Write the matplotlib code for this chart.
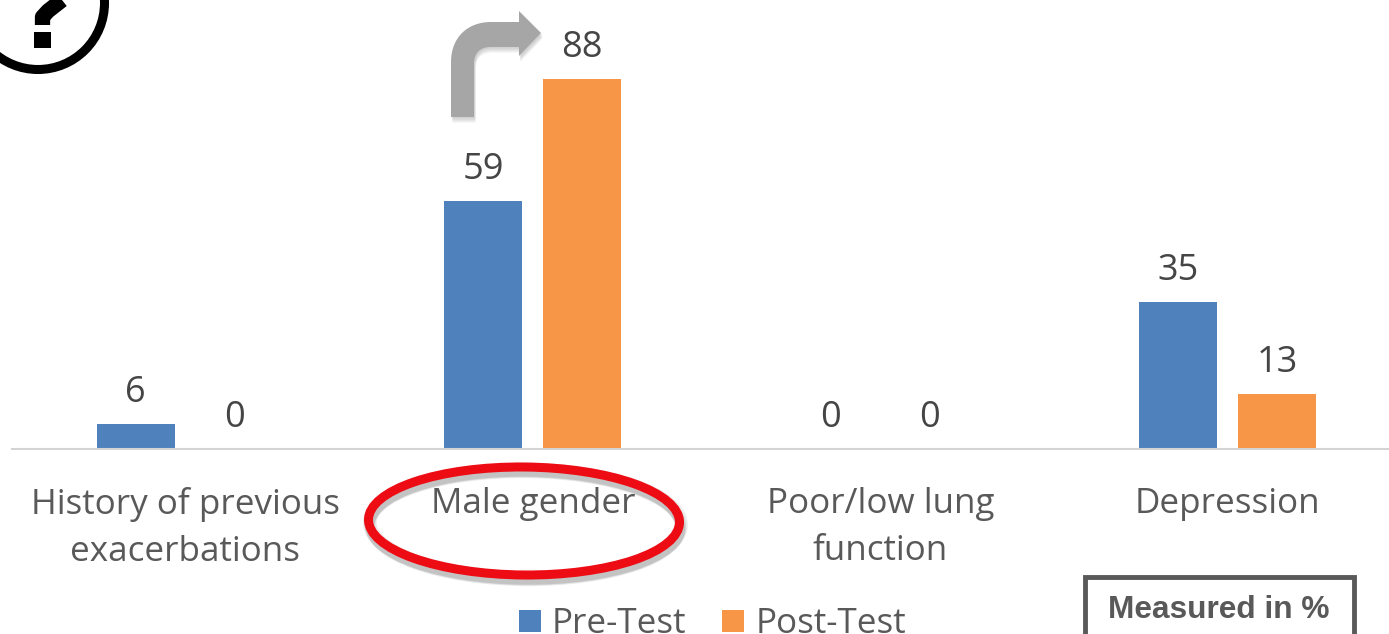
import matplotlib
matplotlib.use("Agg")
import matplotlib.pyplot as plt
import matplotlib.patheffects as pe
from matplotlib.patches import Ellipse, Circle, PathPatch, Rectangle
from matplotlib.path import Path
import numpy as np

categories = ["History of previous\nexacerbations", "Male gender", "Poor/low lung\nfunction", "Depression"]
pre_test = [6, 59, 0, 35]
post_test = [0, 88, 0, 13]
series_names = ["Pre-Test", "Post-Test"]
BLUE, ORANGE, TXT = "#4f81bd", "#f79646", "#595959"

W, H = 1389, 634
plt.rcParams["font.family"] = ["Open Sans", "DejaVu Sans"]
fig = plt.figure(figsize=(W / 100, H / 100), dpi=100)
ax = fig.add_axes([0, 0, 1, 1])
band, x0, base, unit = 347.5, 185.3, 449, 4.2
ax.set_xlim(-x0 / band, (W - x0) / band)
ax.set_ylim(-(H - base) / unit, base / unit)
ax.axis("off")

x = np.arange(len(categories))
offset, width = 49.5 / band, 78 / band
for vals, d, c in ((pre_test, -offset, BLUE), (post_test, offset, ORANGE)):
    bars = ax.bar(x + d, vals, width, color=c, zorder=2)
    for b, v in zip(bars, vals):
        ax.annotate(str(v), (b.get_x() + b.get_width() / 2, v), xytext=(0, 22.5), textcoords="offset points",
                    ha="center", va="center", fontsize=26, color="#454545")
for xi, cat in zip(x, categories):
    ax.text(xi, -9.0, cat, ha="center", va="top", fontsize=25.2, color=TXT, linespacing=1.52)

# pixel-space overlay for annotations
ov = fig.add_axes([0, 0, 1, 1], facecolor="none")
ov.set_xlim(0, W); ov.set_ylim(H, 0); ov.axis("off")
ov.plot([12, W], [449, 449], color="#d4d4d4", lw=1.5, zorder=1)

# legend
ov.add_patch(Rectangle((519, 610), 22, 22, color=BLUE, lw=0))
ov.add_patch(Rectangle((722, 610), 22, 22, color=ORANGE, lw=0))
ov.text(552, 624, series_names[0], fontsize=25.2, color=TXT, va="center", ha="left")
ov.text(756, 624, series_names[1], fontsize=25.2, color=TXT, va="center", ha="left")

# measured box
ov.add_patch(Rectangle((1085, 577), 269, 70, fc="white", ec="#595959", lw=3.5))
ov.text(1219, 610, "Measured in %", family="Liberation Sans", weight="bold", fontsize=22.8,
        color=TXT, ha="center", va="center")

# red ellipse with soft shadow
soft = [pe.SimpleLineShadow(offset=(1, -o), shadow_color="#777777", alpha=0.13, linewidth=l)
        for o, l in ((2, 10), (3, 8), (4, 7), (5, 6))]
ov.add_patch(Ellipse((524, 521), 311, 108, angle=0.5, fc="none", ec="#ee0c14", lw=6.5,
                     path_effects=soft + [pe.Normal()]))

# grey bent arrow
verts = [(451, 117), (451, 62), (451, 38), (467, 22), (491, 22), (519, 22), (519, 11), (541, 33),
         (519, 56), (519, 47), (491, 47), (480, 47), (474, 53), (474, 64), (474, 117), (451, 117)]
codes = [Path.MOVETO, Path.LINETO, Path.CURVE4, Path.CURVE4, Path.CURVE4, Path.LINETO, Path.LINETO,
         Path.LINETO, Path.LINETO, Path.LINETO, Path.LINETO, Path.CURVE4, Path.CURVE4, Path.CURVE4,
         Path.LINETO, Path.CLOSEPOLY]
ov.add_patch(PathPatch(Path(verts, codes), fc="#a6a6a6", ec="none",
                       path_effects=[pe.SimplePatchShadow(offset=(1, -o), shadow_rgbFace="#999999", alpha=0.13)
                                     for o in (1, 2, 3, 4)] + [pe.Normal()]))

# question-mark icon
ov.add_patch(Circle((38, 3), 66.5, fc="none", ec="black", lw=6.5))
ov.add_patch(Rectangle((34, 32), 17, 16, fc="black", ec="none"))
ov.plot([42.5, 42.5, 48, 62], [25, 17, 11, 0], color="black", lw=11, solid_capstyle="butt",
        solid_joinstyle="round")

fig.savefig("out.png", dpi=100)
